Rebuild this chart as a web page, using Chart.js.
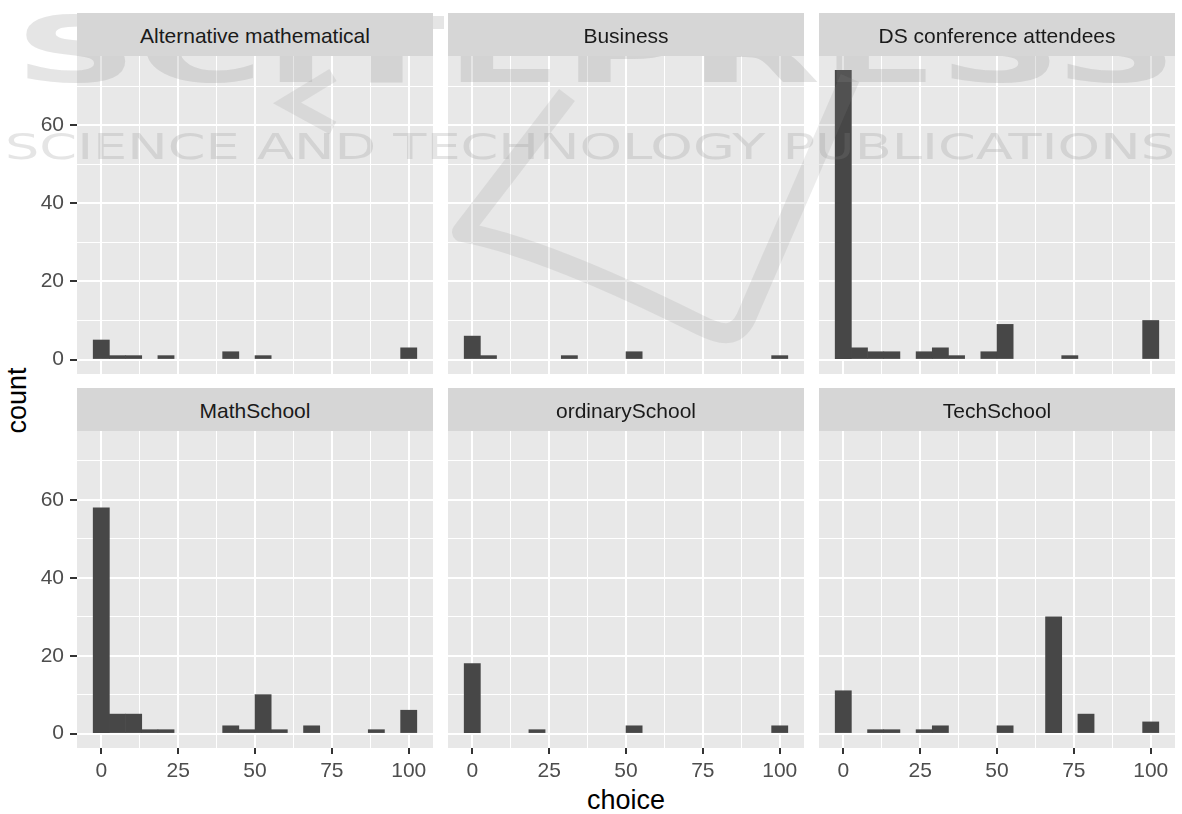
<!DOCTYPE html>
<html>
<head>
<meta charset="utf-8">
<script src="https://cdn.jsdelivr.net/npm/chart.js@4.4.1/dist/chart.umd.min.js"></script>
<style>
  body { margin: 0; width: 1182px; height: 814px; background: #fff; position: relative; overflow: hidden;
         font-family: "Liberation Sans", Arial, sans-serif; }
  canvas { position: absolute; }
  .strip { position: absolute; height: 41px; padding-top: 2px; background: #D6D6D6; color: #1A1A1A;
           font-size: 21px; line-height: 42px; text-align: center; }
  .title { position: absolute; font-size: 27px; line-height: 27px; color: #000; text-align: center; white-space: nowrap; }
  #wm { position: absolute; left: 0; top: 0; pointer-events: none; }
</style>
</head>
<body>
<div class="title" style="left:526px;top:787px;width:200px">choice</div>
<div class="title" style="left:-33px;top:387px;width:100px;transform:rotate(-90deg)">count</div>
<svg id="wm" width="1182" height="814">
  <text x="14" y="82" font-family="DejaVu Sans" font-weight="bold" font-size="90" textLength="1164"
        lengthAdjust="spacingAndGlyphs" fill="#8a8a8a" fill-opacity="0.22">SCITEPRESS</text>
  <text x="5" y="159" font-family="DejaVu Sans" font-size="35" textLength="1170"
        lengthAdjust="spacingAndGlyphs" fill="#8a8a8a" fill-opacity="0.22">SCIENCE AND TECHNOLOGY PUBLICATIONS</text>
  <path d="M 567 95 L 462 232 C 530 245, 620 285, 700 325 C 722 336, 736 338, 746 318 L 850 78"
        fill="none" stroke="#8a8a8a" stroke-opacity="0.16" stroke-width="20" stroke-linejoin="round"/>
  <path d="M 333 75 L 287 103 L 333 128"
        fill="none" stroke="#8a8a8a" stroke-opacity="0.16" stroke-width="14" stroke-linejoin="miter"/>
</svg>
<script>
// histogram bin middles (20 bins over 0..100)
const binMids = [0, 5.26, 10.53, 15.79, 21.05, 26.32, 31.58, 36.84, 42.11, 47.37,
                 52.63, 57.89, 63.16, 68.42, 73.68, 78.95, 84.21, 89.47, 94.74, 100];

const groups = ['Alternative mathematical', 'Business', 'DS conference attendees',
                'MathSchool', 'ordinarySchool', 'TechSchool'];

// counts per bin
const altMath  = [5, 1, 1, 0, 1, 0, 0, 0, 2, 0, 1, 0, 0, 0, 0, 0, 0, 0, 0, 3];
const business = [6, 1, 0, 0, 0, 0, 1, 0, 0, 0, 2, 0, 0, 0, 0, 0, 0, 0, 0, 1];
const dsConf   = [74, 3, 2, 2, 0, 2, 3, 1, 0, 2, 9, 0, 0, 0, 1, 0, 0, 0, 0, 10];
const mathSch  = [58, 5, 5, 1, 1, 0, 0, 0, 2, 1, 10, 1, 0, 2, 0, 0, 0, 1, 0, 6];
const ordSch   = [18, 0, 0, 0, 1, 0, 0, 0, 0, 0, 2, 0, 0, 0, 0, 0, 0, 0, 0, 2];
const techSch  = [11, 0, 1, 1, 0, 1, 2, 0, 0, 0, 2, 0, 0, 30, 0, 5, 0, 0, 0, 3];

const xTicks  = [0, 12.5, 25, 37.5, 50, 62.5, 75, 87.5, 100];
const xLabels = ['0', '', '25', '', '50', '', '75', '', '100'];
const yTicks  = [0, 10, 20, 30, 40, 50, 60, 70];
const yLabels = ['0', '', '20', '', '40', '', '60', ''];

const seriesList = [altMath, business, dsConf, mathSch, ordSch, techSch];

const colLeft = [77, 448, 819];
const panelW = 356;
const stripTop = [13, 388];
const rowTop = [56, 431];
const panelH = [318, 317];
const font = { family: '"Liberation Sans", Arial, sans-serif', size: 21 };

const panelBg = {
  id: 'panelBg',
  beforeDraw(chart) {
    const a = chart.chartArea;
    chart.ctx.save();
    chart.ctx.fillStyle = '#E8E8E8';
    chart.ctx.fillRect(a.left, a.top, a.right - a.left, a.bottom - a.top);
    chart.ctx.restore();
  }
};

function noPad(s) {
  s.paddingTop = 0; s.paddingBottom = 0; s.paddingLeft = 0; s.paddingRight = 0;
}

function makePanel(idx) {
  const col = idx % 3;
  const row = Math.floor(idx / 3);
  const left = col === 0 ? 0 : colLeft[col];
  const yAxisW = col === 0 ? colLeft[0] : 0;
  const xAxisH = row === 1 ? 40 : 0;
  const w = panelW + yAxisW;
  const h = panelH[row] + xAxisH;

  const strip = document.createElement('div');
  strip.className = 'strip';
  strip.style.left = colLeft[col] + 'px';
  strip.style.top = stripTop[row] + 'px';
  strip.style.width = panelW + 'px';
  strip.textContent = groups[idx];
  document.body.appendChild(strip);

  const cv = document.createElement('canvas');
  cv.width = w; cv.height = h;
  cv.style.left = left + 'px';
  cv.style.top = rowTop[row] + 'px';
  cv.style.width = w + 'px';
  cv.style.height = h + 'px';
  document.body.insertBefore(cv, document.getElementById('wm'));

  new Chart(cv, {
    type: 'bar',
    data: {
      datasets: [{
        // empty bins are left out of the drawing (null), so no hairline shows at zero
        data: binMids.map((x, i) => ({ x: x, y: seriesList[idx][i] === 0 ? null : seriesList[idx][i] })),
        backgroundColor: '#474747',
        borderWidth: 0,
        barPercentage: 1,
        categoryPercentage: 1
      }]
    },
    options: {
      responsive: false,
      animation: false,
      devicePixelRatio: 1,
      layout: { padding: 0 },
      plugins: { legend: { display: false }, tooltip: { enabled: false } },
      scales: {
        x: {
          type: 'linear',
          min: -7.895,
          max: 107.895,
          offset: false,
          afterBuildTicks: (s) => { s.ticks = xTicks.map(v => ({ value: v })); },
          afterFit: (s) => { s.height = xAxisH; noPad(s); },
          border: { display: false },
          grid: {
            offset: false,
            color: '#FFFFFF',
            lineWidth: (c) => (c.tick && c.tick.value % 25 === 0 ? 2 : 1),
            drawTicks: row === 1,
            tickLength: 6,
            tickWidth: 2,
            tickColor: (c) => (c.tick && c.tick.value % 25 === 0 ? '#333333' : 'rgba(0,0,0,0)')
          },
          ticks: {
            display: row === 1,
            autoSkip: false,
            maxRotation: 0,
            padding: 5,
            color: '#4D4D4D',
            font: font,
            callback: (v, i) => xLabels[i]
          }
        },
        y: {
          min: -3.7,
          max: 77.7,
          afterBuildTicks: (s) => { s.ticks = yTicks.map(v => ({ value: v })); },
          afterFit: (s) => { s.width = yAxisW; noPad(s); },
          border: { display: false },
          grid: {
            color: '#FFFFFF',
            lineWidth: (c) => (c.tick && c.tick.value % 20 === 0 ? 2 : 1),
            drawTicks: col === 0,
            tickLength: 7,
            tickWidth: 2,
            tickColor: (c) => (c.tick && c.tick.value % 20 === 0 ? '#333333' : 'rgba(0,0,0,0)')
          },
          ticks: {
            display: col === 0,
            padding: 6,
            color: '#4D4D4D',
            font: font,
            callback: (v, i) => yLabels[i]
          }
        }
      }
    },
    plugins: [panelBg]
  });
}

for (let i = 0; i < groups.length; i++) makePanel(i);
</script>
</body>
</html>
